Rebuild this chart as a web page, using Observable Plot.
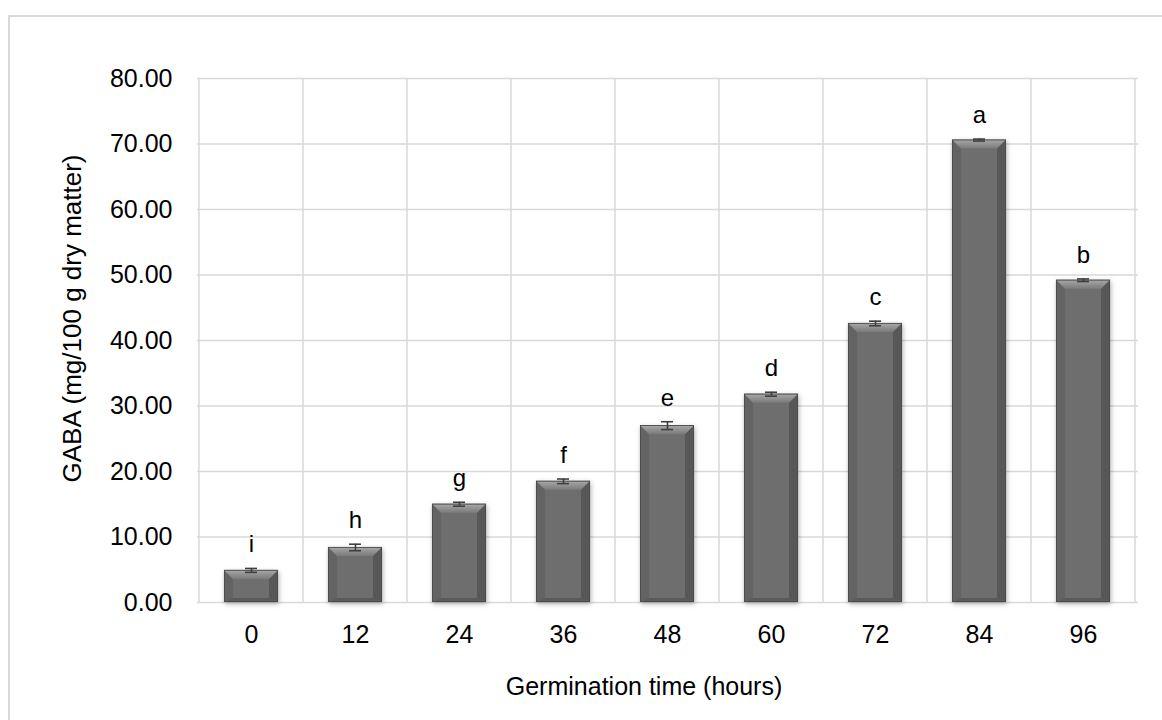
<!DOCTYPE html>
<html><head><meta charset="utf-8">
<script src="https://cdn.jsdelivr.net/npm/d3@7"></script>
<script src="https://cdn.jsdelivr.net/npm/@observablehq/plot@0.6"></script>
<style>
html,body{margin:0;padding:0;background:#fff;overflow:hidden;width:1162px;height:720px}
#frame{position:absolute;left:8px;top:15px;width:1200px;height:760px;border-left:2px solid #d9d9d9;border-top:2px solid #d9d9d9;box-sizing:border-box}
#chart{position:absolute;left:0;top:0}
</style></head><body><div id="frame"></div><div id="chart"></div>
<script>
const times = ["0","12","24","36","48","60","72","84","96"];
const gaba = [4.9, 8.4, 15.0, 18.5, 27.0, 31.8, 42.6, 70.6, 49.2];
const sd = [0.3, 0.5, 0.3, 0.35, 0.6, 0.3, 0.35, 0.15, 0.2];
const letters = ["i","h","g","f","e","d","c","a","b"];
const yTicks = [0,10,20,30,40,50,60,70,80];
const yTitle = "GABA (mg/100 g dry matter)";
const xTitle = "Germination time (hours)";

const data = times.map((t,i)=>({time:t, gaba:gaba[i], sd:sd[i], letter:letters[i]}));
const NS = "http://www.w3.org/2000/svg";
function el(tag, attrs){const e=document.createElementNS(NS,tag);for(const k in attrs)e.setAttribute(k,attrs[k]);return e;}

function bevel(index, scales, values, dimensions, context, next){
  const g = next(index, scales, values, dimensions, context);
  const defs = el("defs",{});
  const lg = el("linearGradient",{id:"topBevel",x1:"0",y1:"0",x2:"0",y2:"1"});
  lg.appendChild(el("stop",{offset:"0%","stop-color":"#a9a9a9"}));
  lg.appendChild(el("stop",{offset:"100%","stop-color":"#7a7a7a"}));
  defs.appendChild(lg);
  g.insertBefore(defs, g.firstChild);
  g.style.filter = "drop-shadow(1px 2px 2.5px rgba(0,0,0,0.3))";
  for(const r of Array.from(g.querySelectorAll("rect"))){
    const x=+r.getAttribute("x"), y=+r.getAttribute("y"), w=+r.getAttribute("width"), h=+r.getAttribute("height");
    const b = Math.min(9, h/2, w/2), s = Math.min(4, h/2);
    const P = pts => pts.map(p=>p.join(",")).join(" ");
    g.appendChild(el("polygon",{points:P([[x,y],[x+b,y+b],[x+b,y+h-s],[x,y+h]]),fill:"#636363"}));
    g.appendChild(el("polygon",{points:P([[x+w,y],[x+w-b,y+b],[x+w-b,y+h-s],[x+w,y+h]]),fill:"#575757"}));
    g.appendChild(el("polygon",{points:P([[x,y+h],[x+b,y+h-s],[x+w-b,y+h-s],[x+w,y+h]]),fill:"#5a5a5a"}));
    g.appendChild(el("polygon",{points:P([[x,y],[x+w,y],[x+w-b,y+b],[x+b,y+b]]),fill:"url(#topBevel)"}));
    g.appendChild(el("rect",{x:x+0.4,y:y+0.4,width:w-0.8,height:h-0.8,fill:"none",stroke:"#4a4a4a","stroke-width":0.9}));
  }
  return g;
}

function vgrid(index, scales, values, dimensions){
  const x = scales.x, step = x.step(), bw = x.bandwidth();
  const g = el("g",{});
  const xs = times.map(t => x(t) - (step-bw)/2);
  xs.push(x(times[times.length-1]) + bw + (step-bw)/2);
  for(const v of xs){
    g.appendChild(el("line",{x1:v,x2:v,y1:dimensions.marginTop,y2:dimensions.height-dimensions.marginBottom,stroke:"#d9d9d9","stroke-width":1.5}));
  }
  return g;
}

const plot = Plot.plot({
  width:1162, height:720,
  marginLeft:197, marginRight:24, marginTop:78, marginBottom:118,
  style:{fontFamily:"'Liberation Sans', Arial, sans-serif", fontSize:"25px", color:"#000", background:"transparent"},
  x:{domain:times, paddingInner:0.48, paddingOuter:0.24, label:null},
  y:{domain:[0,80], label:null},
  marks:[
    Plot.gridY(yTicks,{stroke:"#d9d9d9", strokeOpacity:1, strokeWidth:1.5}),
    vgrid,
    Plot.axisY({ticks:yTicks, tickFormat:d3.format(".2f"), tickSize:0, tickPadding:25, label:null, fontSize:25}),
    Plot.axisX({tickSize:0, tickPadding:23, label:null, fontSize:25}),
    Plot.barY(data,{x:"time", y:"gaba", fill:"#6e6e6e", render:bevel}),
    Plot.ruleX(data,{x:"time", y1:d=>d.gaba-d.sd, y2:d=>d.gaba+d.sd, stroke:"#3f3f3f", strokeWidth:1.6}),
    Plot.tickY(data,{x:"time", y:d=>d.gaba+d.sd, stroke:"#3f3f3f", strokeWidth:1.6, insetLeft:21, insetRight:21}),
    Plot.tickY(data,{x:"time", y:d=>d.gaba-d.sd, stroke:"#3f3f3f", strokeWidth:1.6, insetLeft:21, insetRight:21}),
    Plot.text(data,{x:"time", y:d=>d.gaba+d.sd, text:"letter", dy:-16, lineAnchor:"bottom", fontSize:24, fill:"#000"}),
    Plot.text([yTitle],{frameAnchor:"left", rotate:-90, dx:-125, dy:-22, textAnchor:"middle", lineAnchor:"middle", fontSize:26, fill:"#000"}),
    Plot.text([xTitle],{frameAnchor:"bottom", dx:-24, dy:84, textAnchor:"middle", lineAnchor:"middle", fontSize:25, fill:"#000"})
  ]
});
document.getElementById("chart").appendChild(plot);
</script>
</body></html>
